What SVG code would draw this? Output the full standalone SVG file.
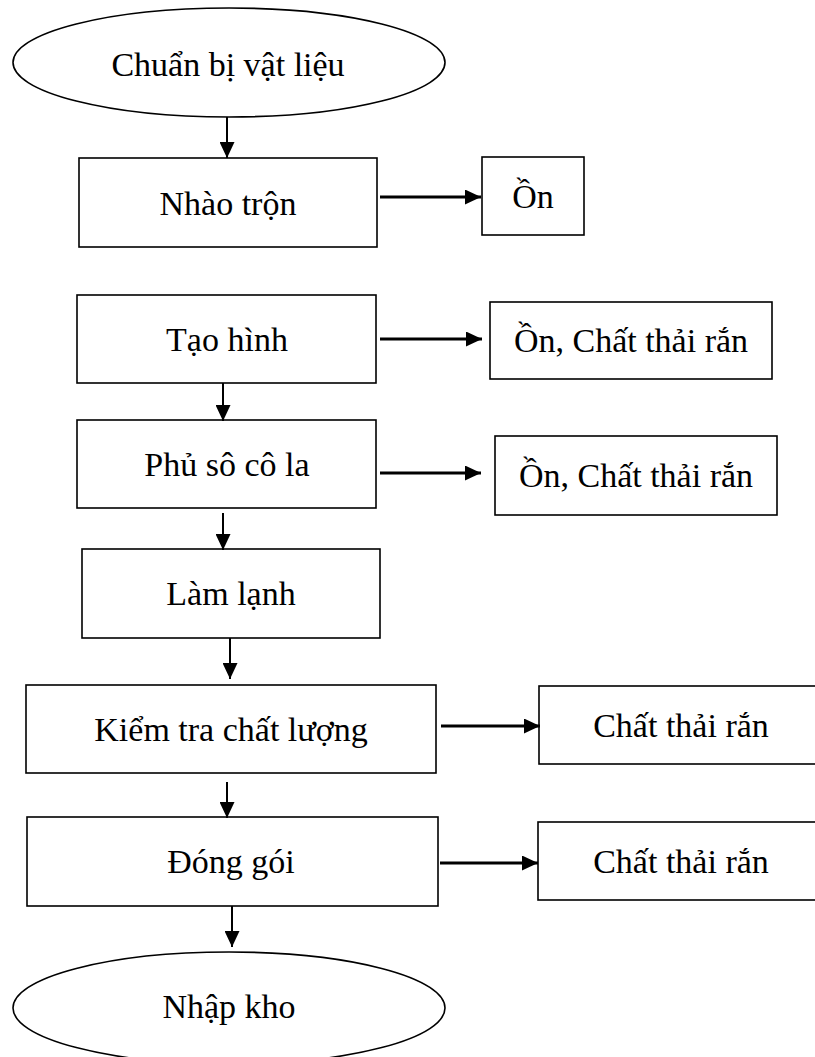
<svg xmlns="http://www.w3.org/2000/svg" width="815" height="1057" viewBox="0 0 815 1057">
  <style>
    .box { fill: #ffffff; stroke: #000000; stroke-width: 1.6; }
    .lbl { font-family: "Liberation Serif", "Times New Roman", serif; font-size: 34px; fill: #000000; text-anchor: middle; }
    .down { stroke: #000000; stroke-width: 2; fill: none; marker-end: url(#head); }
    .side { stroke: #000000; stroke-width: 3; fill: none; marker-end: url(#head); }
  </style>
  <defs>
    <marker id="head" markerUnits="userSpaceOnUse" markerWidth="16" markerHeight="15" refX="16" refY="7.5" orient="auto">
      <path d="M0,0 L16,7.5 L0,15 Z" fill="#000000"/>
    </marker>
  </defs>
  <rect width="815" height="1057" fill="#ffffff"/>

  <!-- main process chain -->
  <g id="start">
    <ellipse class="box" cx="229" cy="62.5" rx="216" ry="54.5"/>
    <text class="lbl" x="228" y="76">Chuẩn bị vật liệu</text>
  </g>
  <g id="mixing">
    <rect class="box" x="79" y="158" width="298" height="89"/>
    <text class="lbl" x="228" y="215">Nhào trộn</text>
  </g>
  <g id="shaping">
    <rect class="box" x="77" y="295" width="299" height="88"/>
    <text class="lbl" x="227" y="351">Tạo hình</text>
  </g>
  <g id="coating">
    <rect class="box" x="77" y="420" width="299" height="88"/>
    <text class="lbl" x="227" y="476">Phủ sô cô la</text>
  </g>
  <g id="cooling">
    <rect class="box" x="82" y="549" width="298" height="89"/>
    <text class="lbl" x="231" y="605">Làm lạnh</text>
  </g>
  <g id="inspection">
    <rect class="box" x="26" y="685" width="410" height="88"/>
    <text class="lbl" x="231" y="741">Kiểm tra chất lượng</text>
  </g>
  <g id="packing">
    <rect class="box" x="27" y="817" width="411" height="89"/>
    <text class="lbl" x="231" y="873">Đóng gói</text>
  </g>
  <g id="storage">
    <ellipse class="box" cx="229" cy="1008" rx="216" ry="56"/>
    <text class="lbl" x="229" y="1018">Nhập kho</text>
  </g>

  <!-- emissions -->
  <g id="out-mixing">
    <rect class="box" x="482" y="157" width="102" height="78"/>
    <text class="lbl" x="533" y="208">Ồn</text>
  </g>
  <g id="out-shaping">
    <rect class="box" x="490" y="302" width="282" height="77"/>
    <text class="lbl" x="631" y="352">Ồn, Chất thải rắn</text>
  </g>
  <g id="out-coating">
    <rect class="box" x="495" y="436" width="282" height="79"/>
    <text class="lbl" x="636" y="487">Ồn, Chất thải rắn</text>
  </g>
  <g id="out-inspection">
    <rect class="box" x="539" y="686" width="290" height="78"/>
    <text class="lbl" x="681" y="737">Chất thải rắn</text>
  </g>
  <g id="out-packing">
    <rect class="box" x="538" y="822" width="290" height="78"/>
    <text class="lbl" x="681" y="873">Chất thải rắn</text>
  </g>

  <g id="connectors">
    <line class="down" x1="227" y1="117" x2="227" y2="158"/>
    <line class="side" x1="380" y1="197" x2="481" y2="197"/>
    <line class="side" x1="380" y1="339" x2="482" y2="339"/>
    <line class="down" x1="223" y1="383" x2="223" y2="421"/>
    <line class="side" x1="380" y1="473" x2="481" y2="473"/>
    <line class="down" x1="223" y1="513" x2="223" y2="550"/>
    <line class="down" x1="230" y1="638" x2="230" y2="679"/>
    <line class="side" x1="441" y1="726" x2="540" y2="726"/>
    <line class="down" x1="227" y1="782" x2="227" y2="818"/>
    <line class="side" x1="440" y1="863" x2="538" y2="863"/>
    <line class="down" x1="232" y1="906" x2="232" y2="947"/>
  </g>
</svg>
